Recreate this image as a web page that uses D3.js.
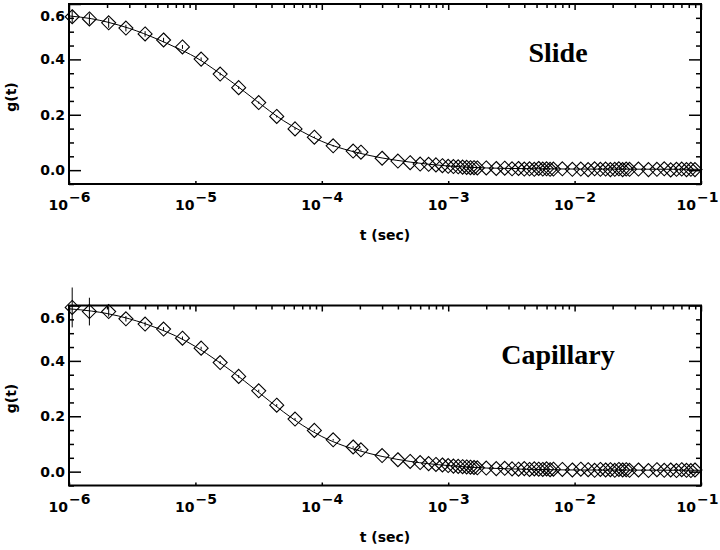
<!DOCTYPE html>
<html>
<head>
<meta charset="utf-8">
<script src="https://cdn.jsdelivr.net/npm/d3@7"></script>
<style>
  body { margin: 0; background: #fff; }
  .tick text { font-family: "DejaVu Sans", sans-serif; font-weight: bold; font-size: 14px; fill: #000; }
  .lbl { font-family: "DejaVu Sans", sans-serif; font-weight: bold; font-size: 14px; }
  .ttl { font-family: "Liberation Serif", "Times New Roman", serif; font-weight: bold; font-size: 28px; }
</style>
</head>
<body>
<div id="chart"></div>
<script>
// lag times (s), same grid in both panels
const tLag = [
  1.06e-6, 1.45e-6, 2.06e-6, 2.82e-6, 4.0e-6, 5.6e-6, 7.9e-6, 1.11e-5, 1.57e-5, 2.2e-5,
  3.17e-5, 4.4e-5, 6.14e-5, 8.73e-5, 1.23e-4, 1.77e-4, 2.04e-4,
  3e-4, 4e-4, 5e-4, 6e-4, 7e-4, 8e-4, 9e-4, 1.0e-3, 1.1e-3, 1.2e-3, 1.3e-3, 1.4e-3, 1.5e-3, 1.6e-3, 1.7e-3,
  2.0e-3, 2.4e-3, 2.8e-3, 3.2e-3, 3.6e-3, 4.0e-3, 4.4e-3, 4.8e-3, 5.2e-3, 5.6e-3, 6.0e-3, 6.4e-3, 6.8e-3,
  8.0e-3, 9.6e-3, 1.12e-2, 1.28e-2, 1.44e-2, 1.6e-2, 1.76e-2, 1.92e-2, 2.08e-2, 2.24e-2, 2.4e-2, 2.56e-2, 2.72e-2,
  3.2e-2, 3.84e-2, 4.48e-2, 5.12e-2, 5.76e-2, 6.4e-2, 7.04e-2, 7.68e-2, 8.32e-2, 8.96e-2
];

const slideG = [
  0.554, 0.546, 0.532, 0.513, 0.492, 0.470, 0.445, 0.401, 0.347, 0.298,
  0.244, 0.194, 0.149, 0.119, 0.088, 0.069, 0.065,
  0.043, 0.033, 0.027, 0.022, 0.021, 0.019, 0.016, 0.014, 0.013, 0.012, 0.011, 0.010, 0.009, 0.009, 0.008,
  0.008, 0.006, 0.007, 0.005, 0.006, 0.004, 0.005, 0.003, 0.006, 0.004, 0.005, 0.003, 0.004,
  0.005, 0.003, 0.004, 0.002, 0.005, 0.003, 0.004, 0.002, 0.003, 0.005, 0.002, 0.004, 0.003,
  0.004, 0.002, 0.003, 0.005, 0.001, 0.003, 0.004, 0.002, 0.003, 0.002
];
const slideErr = [0.022, 0.02, 0.018, 0.012, 0.01, 0.008, 0.007, 0.006, 0.005, 0.005,
  0.004, 0.004, 0.004, 0.003, 0.003, 0.003, 0.003];

const capillaryG = [
  0.593, 0.578, 0.578, 0.552, 0.533, 0.515, 0.482, 0.446, 0.394, 0.344,
  0.292, 0.240, 0.190, 0.149, 0.115, 0.089, 0.079,
  0.058, 0.043, 0.037, 0.033, 0.029, 0.026, 0.024, 0.022, 0.020, 0.019, 0.018, 0.017, 0.016, 0.015, 0.014,
  0.013, 0.011, 0.012, 0.010, 0.009, 0.011, 0.008, 0.010, 0.009, 0.008, 0.010, 0.007, 0.009,
  0.008, 0.006, 0.009, 0.007, 0.005, 0.008, 0.006, 0.007, 0.005, 0.008, 0.006, 0.007, 0.005,
  0.006, 0.004, 0.007, 0.005, 0.006, 0.004, 0.007, 0.005, 0.004, 0.006
];
const capillaryErr = [0.072, 0.05, 0.018, 0.01, 0.008, 0.007, 0.006, 0.005, 0.005, 0.005,
  0.004, 0.004, 0.004, 0.003, 0.003, 0.003, 0.003];

// fitted curves
const fitT = [1e-6, 1.5e-6, 2e-6, 3e-6, 5e-6, 7e-6, 1e-5, 1.5e-5, 2e-5, 3e-5, 5e-5, 7e-5,
  1e-4, 1.5e-4, 2e-4, 3e-4, 5e-4, 1e-3, 2e-3, 5e-3, 1e-2, 1e-1];
const slideFit = [0.557, 0.547, 0.535, 0.512, 0.473, 0.443, 0.408, 0.355, 0.314, 0.252, 0.178, 0.139,
  0.104, 0.076, 0.061, 0.044, 0.029, 0.015, 0.008, 0.005, 0.004, 0.003];
const capillaryFit = [0.588, 0.580, 0.571, 0.552, 0.518, 0.490, 0.452, 0.399, 0.358, 0.295, 0.215, 0.168,
  0.127, 0.093, 0.075, 0.055, 0.037, 0.022, 0.013, 0.008, 0.006, 0.005];

const panelNames = ["Slide", "Capillary"];
const xTicks = [1e-6, 1e-5, 1e-4, 1e-3, 1e-2, 1e-1];
const xTickExp = ["\u22126", "\u22125", "\u22124", "\u22123", "\u22122", "\u22121"];
const yTicks = [0, 0.2, 0.4, 0.6];
const yTickLabels = ["0.0", "0.2", "0.4", "0.6"];
const yMinor = [-0.05, 0.05, 0.1, 0.15, 0.25, 0.3, 0.35, 0.45, 0.5, 0.55];

const W = 720, H = 550;
const left = 69, plotW = 632, plotH = 180;
const panelTops = [4, 305.5];

const svg = d3.select("#chart").append("svg")
  .attr("width", W).attr("height", H);

const x = d3.scaleLog().domain([1e-6, 1e-1]).range([0, plotW]);
const y = d3.scaleLinear().domain([-0.05, 0.6]).range([plotH, 0]);

// log minor ticks for top axis
const xMinor = [];
xTicks.slice(0, -1).forEach(d => { for (let k = 2; k <= 9; k++) xMinor.push(d * k); });

const panels = [
  { name: panelNames[0], g: slideG, err: slideErr, fit: slideFit, top: panelTops[0] },
  { name: panelNames[1], g: capillaryG, err: capillaryErr, fit: capillaryFit, top: panelTops[1] }
];

const diamond = "M0,-7L7,0L0,7L-7,0Z";

panels.forEach(p => {
  const g = svg.append("g").attr("transform", `translate(${left},${p.top})`);

  // left axis
  const la = g.append("g")
    .call(d3.axisLeft(y).tickValues(yTicks).tickSize(-12).tickPadding(4)
      .tickFormat((d, i) => yTickLabels[i]));
  la.selectAll("text").filter(d => d === 0.6).attr("dy", "1.18em");
  g.append("g").call(d3.axisLeft(y).tickValues(yMinor).tickSize(-5).tickFormat(""));

  // right axis
  g.append("g").attr("transform", `translate(${plotW},0)`)
    .call(d3.axisRight(y).tickValues(yTicks).tickSize(-12).tickFormat(""));
  g.append("g").attr("transform", `translate(${plotW},0)`)
    .call(d3.axisRight(y).tickValues(yMinor).tickSize(-5).tickFormat(""));

  // top axis
  g.append("g").call(d3.axisTop(x).tickValues(xTicks).tickSize(-6).tickFormat(""));
  g.append("g").call(d3.axisTop(x).tickValues(xMinor).tickSize(-4).tickFormat(""));

  // bottom axis with 10^n labels
  const ba = g.append("g").attr("transform", `translate(0,${plotH})`)
    .call(d3.axisBottom(x).tickValues(xTicks).tickSize(-3).tickPadding(16).tickFormat(""));
  ba.selectAll(".tick text").each(function (d, i) {
    const t = d3.select(this).attr("dy", null).attr("y", 26);
    if (i === xTicks.length - 1) t.attr("text-anchor", "end").attr("x", 17);
    t.append("tspan").text("10");
    t.append("tspan").attr("dy", -8).attr("dx", 1).text(xTickExp[i]);
  });

  g.selectAll(".domain").remove();
  g.selectAll(".tick line").attr("stroke", "#000").attr("stroke-width", 1.5);

  // frame
  g.append("rect").attr("width", plotW).attr("height", plotH)
    .attr("fill", "none").attr("stroke", "#000").attr("stroke-width", 2);

  // fit curve
  g.append("path")
    .datum(fitT.map((t, i) => [t, p.fit[i]]))
    .attr("fill", "none").attr("stroke", "#000").attr("stroke-width", 1)
    .attr("d", d3.line().x(d => x(d[0])).y(d => y(d[1])).curve(d3.curveMonotoneX));

  // error bars
  g.selectAll(".err").data(p.err).join("line")
    .attr("x1", (d, i) => x(tLag[i])).attr("x2", (d, i) => x(tLag[i]))
    .attr("y1", (d, i) => y(p.g[i] + d)).attr("y2", (d, i) => y(p.g[i] - d))
    .attr("stroke", "#000").attr("stroke-width", 1);

  // diamonds
  g.selectAll(".pt").data(tLag.map((t, i) => [t, p.g[i]])).join("path")
    .attr("transform", d => `translate(${x(d[0])},${y(d[1])})`)
    .attr("d", diamond)
    .attr("fill", "none").attr("stroke", "#000").attr("stroke-width", 1.1);

  // labels
  g.append("text").attr("class", "lbl")
    .attr("text-anchor", "middle")
    .attr("x", plotW / 2).attr("y", plotH + 56)
    .text("t (sec)");
  g.append("text").attr("class", "lbl")
    .attr("text-anchor", "middle")
    .attr("transform", `translate(${16 - left},${plotH / 2 + 3}) rotate(-90)`)
    .text("g(t)");
  g.append("text").attr("class", "ttl")
    .attr("text-anchor", "middle")
    .attr("x", 489).attr("y", 58)
    .text(p.name);
});
</script>
</body>
</html>
